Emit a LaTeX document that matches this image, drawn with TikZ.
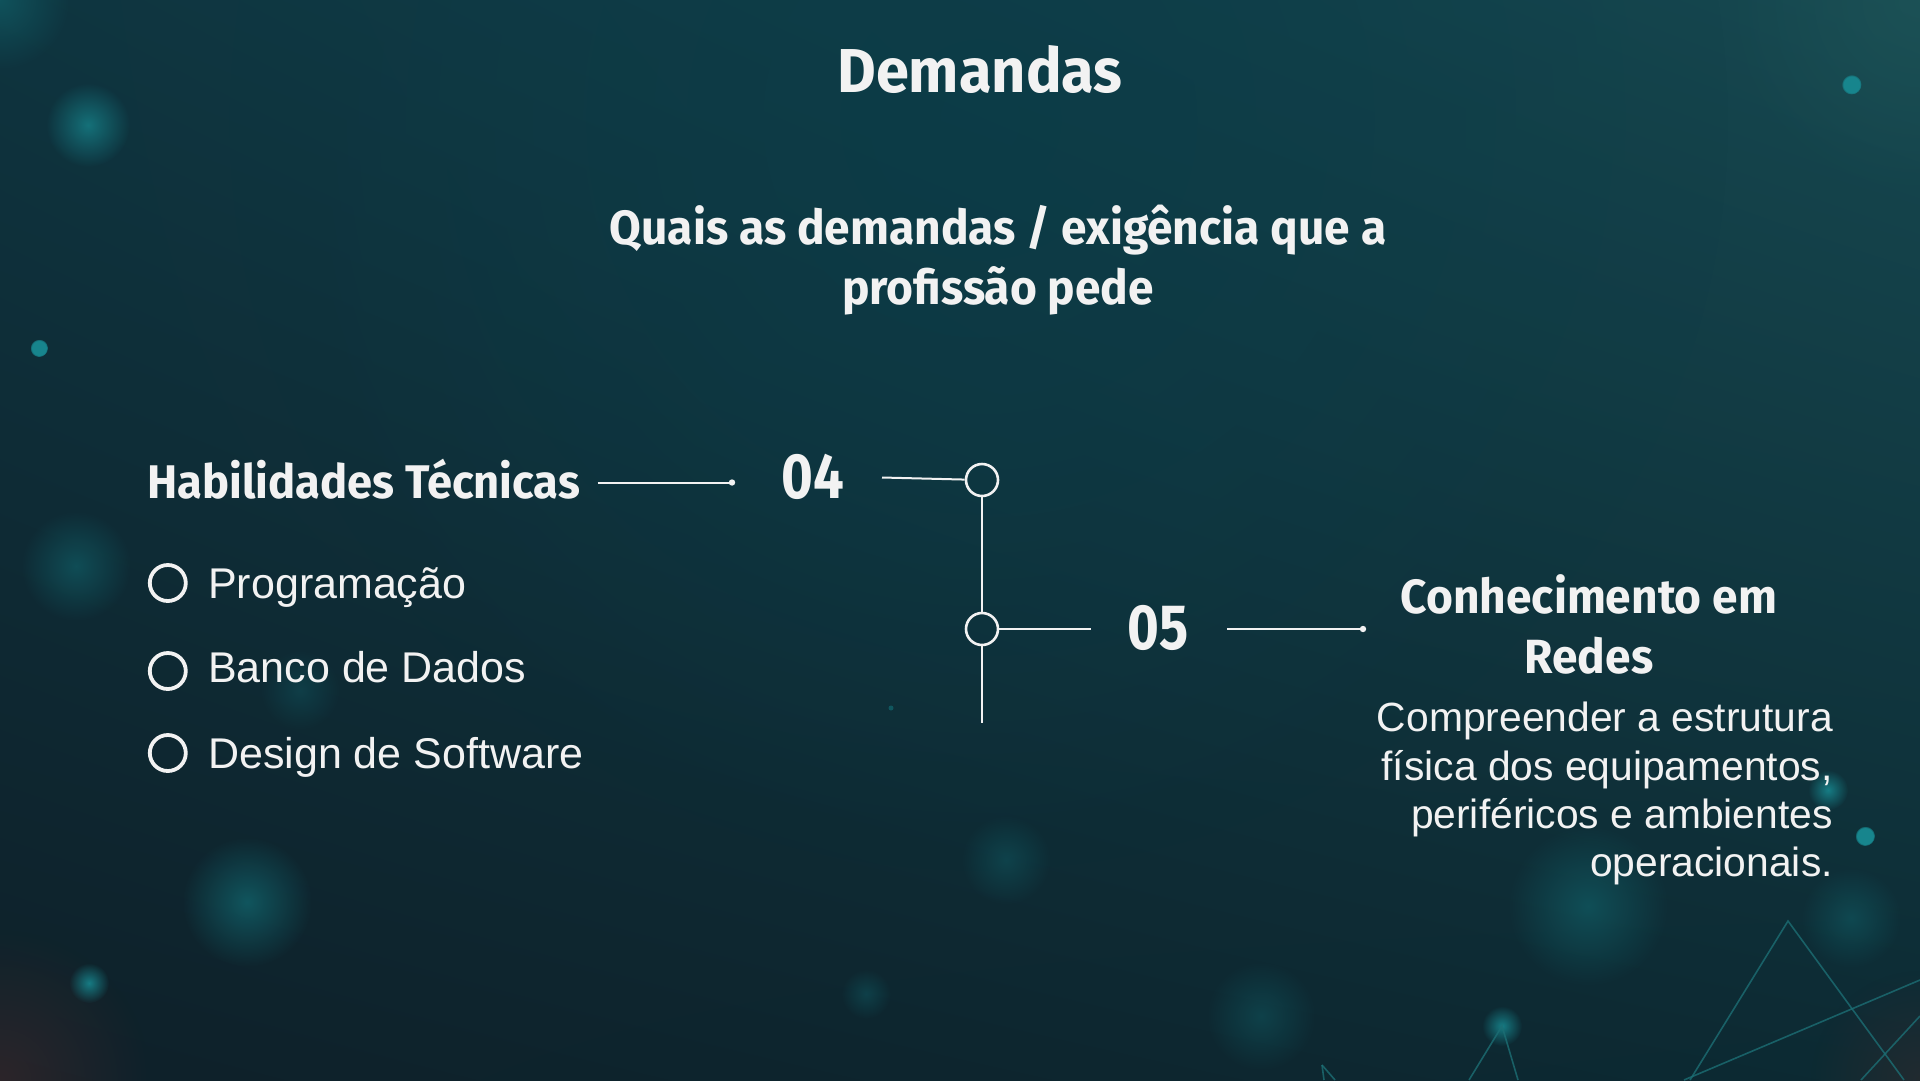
\documentclass[tikz,border=0pt]{standalone}
\usepackage{fontspec}
\setmainfont{Liberation Sans}
\newfontfamily\headfont[FakeStretch=0.96]{Fira Sans}
\newfontfamily\numfont[FakeStretch=0.85]{Fira Sans}
\usetikzlibrary{fadings,shadings}
\definecolor{txt}{HTML}{F2F2F2}
\definecolor{glow}{HTML}{17858D}
\definecolor{glowfaint}{HTML}{127078}
\definecolor{netline}{HTML}{1C6E74}
\definecolor{bgUL}{HTML}{0E343F}
\definecolor{bgUR}{HTML}{164850}
\definecolor{bgLL}{HTML}{0E2029}
\definecolor{bgLR}{HTML}{0C2A33}
\definecolor{bgMid}{HTML}{0A3C48}
\definecolor{bgTR}{HTML}{1E5558}
\definecolor{warm}{HTML}{4A2A2A}
\tikzfading[name=softglow, inner color=transparent!0, outer color=transparent!100]
\tikzset{
  head/.style={text=txt, font=\headfont\bfseries, inner sep=0pt},
  num/.style={text=txt, font=\numfont\bfseries\fontsize{64}{70}\selectfont, inner sep=0pt},
  body/.style={text=txt, font=\fontsize{43}{50}\selectfont, inner sep=0pt},
  conn/.style={draw=txt, line width=2pt},
  ring/.style={circle, draw=txt, line width=2.6pt, minimum size=32pt, inner sep=0pt},
  bullet/.style={circle, draw=txt, line width=3.8pt, minimum size=36pt, inner sep=0pt},
  fuzzy/.style={path fading=softglow},
  dotf/.style={path fading=circle with fuzzy edge 15 percent},
}
\begin{document}
\begin{tikzpicture}[x=1pt,y=-1pt]
\useasboundingbox (0,0) rectangle (1920,1080);
% background
\shade[upper left=bgUL, upper right=bgUR, lower left=bgLL, lower right=bgLR]
  (0,0) rectangle (1920,1080);
\fill[bgMid, opacity=0.7, fuzzy] (980,120) circle (750);
\fill[bgTR, opacity=0.7, fuzzy] (1920,0) circle (200);
\fill[warm, opacity=0.5, fuzzy] (0,1080) circle (150);
\fill[warm, opacity=0.35, fuzzy] (1920,1080) circle (110);
% bokeh
\fill[glowfaint, opacity=0.5, fuzzy] (0,0) circle (70);
\fill[glow, opacity=0.75, fuzzy] (88,125) circle (42);
\fill[glow, dotf] (1851.5,84.5) circle (10);
\fill[glow, dotf] (39,348) circle (9);
\fill[glowfaint, opacity=0.5, fuzzy] (76,566) circle (55);
\fill[glowfaint, opacity=0.65, fuzzy] (247,902) circle (65);
\fill[glow, opacity=0.9, fuzzy] (89,983) circle (20);
\fill[glow, opacity=0.9, fuzzy] (1828,790) circle (20);
\fill[glow, dotf] (1865,836) circle (10);
\fill[glow, opacity=0.9, fuzzy] (1502,1026) circle (20);
\fill[glowfaint, opacity=0.5, fuzzy] (1588,906) circle (80);
\fill[glowfaint, opacity=0.4, fuzzy] (1851,918) circle (50);
\fill[glowfaint, opacity=0.35, fuzzy] (1006,860) circle (45);
\fill[glowfaint, opacity=0.35, fuzzy] (1261,1016) circle (55);
\fill[glowfaint, opacity=0.35, fuzzy] (866,994) circle (25);
\fill[glowfaint, opacity=0.3, fuzzy] (300,690) circle (40);
% network lines
\begin{scope}[draw=netline, line width=1.6pt, opacity=0.8]
  \draw (1690,1080) -- (1788,921) -- (1904,1080);
  \draw (1684,1080) -- (1920,980);
  \draw (1861,1080) -- (1920,1016);
  \draw (1469,1080) -- (1502,1026) -- (1518,1080);
  \draw (1322,1065) -- (1335,1080);
  \draw (1322,1065) -- (1324,1080);
\end{scope}
\fill[glowfaint, opacity=0.6] (891,708) circle (2.5);

% title
\node[head, font=\headfont\bfseries\fontsize{62}{70}\selectfont] (title) at (980,69) {Demandas};
\node[head, font=\headfont\bfseries\fontsize{48}{60}\selectfont, align=center] (sub) at (998,260)
  {Quais as demandas / exigência que a\\[0pt]profissão pede};

% left block
\node[head, anchor=west, font=\headfont\bfseries\fontsize{47.2}{56}\selectfont] (hab) at (147,479) {Habilidades Técnicas};
\node[num] (n04) at (813,477) {04};
\coordinate (l1s) at (597.5,482.5);
\coordinate (l1e) at (732,482.5);
\draw[conn] (l1s) -- (l1e);
\fill[txt] (l1e) circle (3.2);

\node[ring] (c1) at (982,480) {};
\node[ring] (c2) at (982,629) {};
\coordinate (l2s) at (882,477.5);
\coordinate (vb) at (982,722.5);
\coordinate (l3e) at (1091,629);
\draw[conn] (l2s) -- (c1);
\draw[conn] (c1) -- (c2);
\draw[conn] (c2) -- (vb);
\draw[conn] (c2) -- (l3e);

\node[num] (n05) at (1158,628) {05};
\coordinate (l4s) at (1227,629);
\coordinate (l4e) at (1363,629);
\draw[conn] (l4s) -- (l4e);
\fill[txt] (l4e) circle (3.2);

% bullets
\node[bullet] (b1) at (167.8,583) {};
\node[bullet] (b2) at (167.8,671) {};
\node[bullet] (b3) at (167.8,753) {};
\node[body, anchor=west] (i1) at (208,588) {Programação};
\node[body, anchor=west] (i2) at (208,667) {Banco de Dados};
\node[body, anchor=west] (i3) at (208,757) {Design de Software};

% right block
\node[head, font=\headfont\bfseries\fontsize{48}{60}\selectfont, align=center] (con) at (1589,624.5)
  {Conhecimento em\\[0pt]Redes};
\node[text=txt, inner sep=0pt, anchor=north east, align=right, font=\fontsize{40.8}{48.4}\selectfont] (desc) at (1833,702)
  {Compreender a estrutura\\física dos equipamentos,\\periféricos e ambientes\\operacionais.};
\end{tikzpicture}
\end{document}
